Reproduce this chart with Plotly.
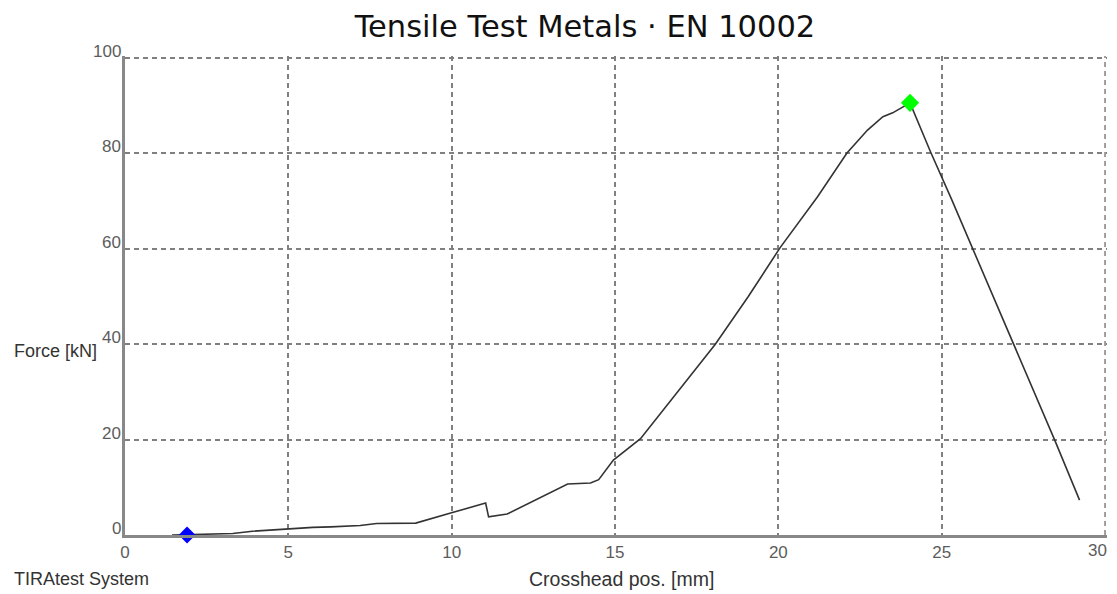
import plotly.graph_objects as go

# Crosshead position [mm] and force [kN]
pos_mm = [1.44, 1.9, 3.3, 3.9, 4.5, 5.05, 5.75, 6.3, 7.2, 7.7, 8.9, 9.97, 11.04, 11.13,
          11.7, 13.55, 14.25, 14.5, 14.95, 15.78, 16.9, 18.07, 19.08, 20.06, 21.2,
          22.1, 22.73, 23.2, 23.5, 24.03, 24.66, 25.3, 28.46, 29.22]
force_kn = [0.0, 0.05, 0.3, 0.8, 1.1, 1.4, 1.6, 1.7, 2.0, 2.4, 2.5, 4.6, 6.7, 3.8,
            4.4, 10.7, 10.9, 11.6, 15.7, 20.2, 30.0, 40.0, 50.0, 60.3, 70.9,
            80.1, 84.9, 87.7, 88.5, 90.6, 80.3, 70.4, 19.9, 7.3]

start_pt = (1.9, 0.0)
max_pt = (24.03, 90.6)

x_ticks = [0, 5, 10, 15, 20, 25, 30]
y_ticks = [0, 20, 40, 60, 80, 100]

tick_font = dict(family="Liberation Sans, Arial, sans-serif", size=17, color="#5c5c5c")
lab_font = dict(family="Liberation Sans, Arial, sans-serif", size=18, color="#333333")

fig = go.Figure()
fig.add_trace(go.Scatter(x=pos_mm, y=force_kn, mode="lines",
                         line=dict(color="#333333", width=1.6), showlegend=False,
                         hoverinfo="skip"))
fig.add_trace(go.Scatter(x=[start_pt[0]], y=[start_pt[1]], mode="markers",
                         marker=dict(symbol="diamond", size=13, color="#0000ff"),
                         showlegend=False, cliponaxis=False))
fig.add_trace(go.Scatter(x=[max_pt[0]], y=[max_pt[1]], mode="markers",
                         marker=dict(symbol="diamond", size=14, color="#00ff00"),
                         showlegend=False, cliponaxis=False))

annotations = []
for v in y_ticks:
    annotations.append(dict(x=0, xref="paper", y=v, yref="y", text=str(v),
                            showarrow=False, xanchor="right", yanchor="bottom",
                            xshift=-2, yshift=-5, font=tick_font))
# last x tick label sits at the right page edge: keep it inside the figure
annotations.append(dict(x=x_ticks[-1], xref="x", y=0, yref="paper", text=str(x_ticks[-1]),
                        showarrow=False, xanchor="right", yanchor="top",
                        xshift=4, yshift=-4, font=tick_font))
annotations.append(dict(x=-0.1151, xref="paper", y=40, yref="y", text="Force [kN]",
                        showarrow=False, xanchor="left", yanchor="middle", yshift=-7,
                        font=lab_font))
annotations.append(dict(x=-0.1151, xref="paper", y=-0.0928, yref="paper",
                        text="TIRAtest System", showarrow=False, xanchor="left",
                        yanchor="middle", font=lab_font))
annotations.append(dict(x=0.5051, xref="paper", y=-0.0928, yref="paper",
                        text="Crosshead pos. [mm]", showarrow=False, xanchor="center",
                        yanchor="middle", font=dict(lab_font, size=19.5)))

# the page body adds an 8px offset, so the figure is smaller than the window
fig.update_layout(
    width=1101, height=586,
    margin=dict(l=117, r=2, t=48, b=58.5, pad=0),
    paper_bgcolor="white", plot_bgcolor="white",
    title=dict(text="Tensile Test Metals · EN 10002", x=0.524, xanchor="center",
               y=0.969, yanchor="middle",
               font=dict(family="DejaVu Sans, sans-serif", size=30.5, color="#111111")),
    annotations=annotations,
)
fig.update_xaxes(range=[0, 30.06], tickvals=x_ticks[:-1],
                 ticktext=[str(t) for t in x_ticks[:-1]],
                 showgrid=True, gridcolor="#808080", gridwidth=1.5, griddash="5px,4px",
                 showline=True, linecolor="#888888", linewidth=2.5, zeroline=False,
                 ticks="", tickfont=tick_font, ticklabelstandoff=0)
fig.update_yaxes(range=[0, 100.42], tickvals=y_ticks, showticklabels=False,
                 showgrid=True, gridcolor="#808080", gridwidth=1.5, griddash="5px,4px",
                 showline=True, linecolor="#888888", linewidth=2.5, zeroline=False,
                 ticks="")
# grid line at the right edge (x = 30) is drawn as part of the x grid
fig.add_vline(x=x_ticks[-1], line=dict(color="#808080", width=1.5, dash="5px,4px"))

fig.write_html("out.html")
